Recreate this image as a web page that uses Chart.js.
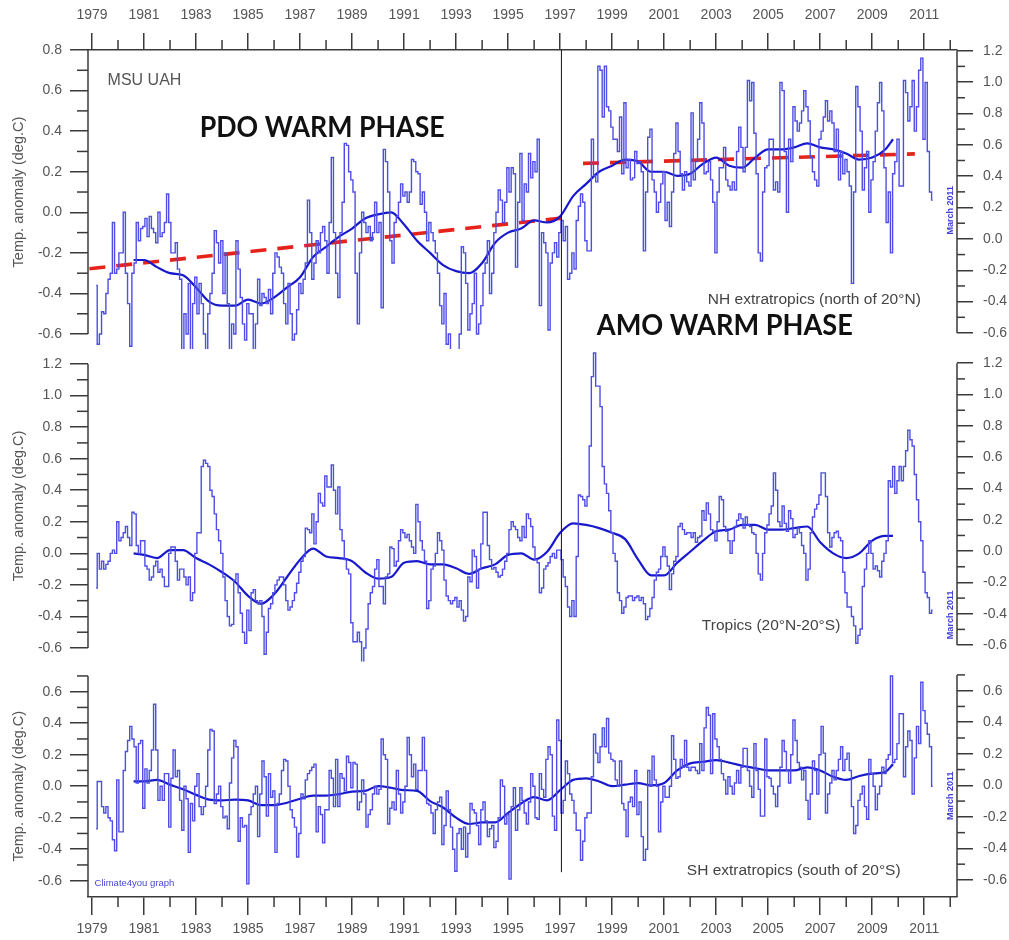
<!DOCTYPE html>
<html><head><meta charset="utf-8">
<script src="https://cdn.jsdelivr.net/npm/chart.js@4/dist/chart.umd.min.js"></script>
<style>html,body{margin:0;padding:0;background:#fff}canvas{display:block}</style>
</head><body>
<canvas id="c" width="1009" height="940"></canvas>
<script>
// ---------- DATA (monthly anomalies, Jan 1979 .. Mar 2011) ----------
const nhMonthly = [
 -0.36,-0.65,-0.60,-0.49,-0.50,-0.40,-0.33,-0.30,-0.05,-0.30,-0.28,-0.20,
 -0.20, 0.00,-0.30,-0.45,-0.66,-0.30,-0.25,-0.05,-0.14,-0.08,-0.07,-0.03,
 -0.12,-0.02,-0.08,-0.10,-0.15, 0.00,-0.12,-0.10,-0.05, 0.09,-0.05,-0.20,
 -0.20,-0.15,-0.28,-0.33,-0.82,-0.50,-0.60,-0.35,-0.70,-0.45,-0.32,-0.50,
 -0.35,-0.45,-0.60,-0.72,-0.50,-0.40,-0.30,-0.09,-0.15,-0.25,-0.14,-0.40,
 -0.20,-0.45,-0.70,-0.55,-0.60,-0.14,-0.28,-0.42,-0.55,-0.63,-0.45,-0.50,
 -0.50,-0.85,-0.55,-0.33,-0.46,-0.40,-0.42,-0.45,-0.38,-0.50,-0.30,-0.20,
 -0.22,-0.27,-0.30,-0.45,-0.55,-0.35,-0.50,-0.63,-0.60,-0.48,-0.35,-0.40,
 -0.33,-0.25, 0.06,-0.10,-0.33,-0.25,-0.14,-0.20,-0.10,-0.07,-0.14,-0.30,
 -0.05, 0.27,-0.10,-0.30,-0.42,-0.10, 0.05, 0.34, 0.33, 0.20, 0.16, 0.10,
 -0.30,-0.55,-0.20, 0.00,-0.05,-0.10,-0.07,-0.14,-0.10, 0.05,-0.10,-0.05,
 -0.47, 0.31, 0.25, 0.10,-0.14,-0.25,-0.05,-0.02, 0.05, 0.14, 0.08, 0.10,
  0.05, 0.10, 0.26, 0.25, 0.20, 0.19, 0.04, 0.10, 0.00,-0.14,-0.05,-0.10,
 -0.14,-0.20,-0.30,-0.46,-0.55,-0.40,-0.65,-0.60,-0.75,-0.78,-0.70,-0.72,
 -0.60,-0.17,-0.20,-0.35,-0.58,-0.50,-0.45,-0.30,-0.60,-0.55,-0.46,-0.30,
 -0.25,-0.14,-0.40,-0.30,-0.10, 0.00, 0.11, 0.06,-0.05, 0.05, 0.22, 0.10,
  0.22, 0.19,-0.27, 0.05, 0.29,-0.04, 0.14, 0.10, 0.29, 0.17, 0.25, 0.20,
  0.36,-0.46,-0.10,-0.15,-0.20,-0.58,-0.25,-0.20,-0.15,-0.22,-0.10,-0.04,
 -0.14,-0.07,-0.33,-0.30,-0.20,-0.28,-0.04, 0.03, 0.09, 0.05,-0.14,-0.19,
 -0.19, 0.36, 0.18, 0.15, 0.72, 0.70, 0.47, 0.72, 0.52, 0.50, 0.42, 0.36,
  0.36, 0.30, 0.47, 0.19, 0.54, 0.22, 0.26, 0.16, 0.17, 0.30, 0.24, 0.25,
  0.20,-0.19, 0.10, 0.37, 0.41, 0.16, 0.10, 0.00, 0.05, 0.14, 0.20,-0.04,
  0.05,-0.07, 0.10, 0.29, 0.44, 0.30, 0.19, 0.11, 0.20, 0.15, 0.13, 0.49,
  0.16, 0.25, 0.36, 0.54, 0.44, 0.19, 0.20, 0.25, 0.16, 0.05,-0.20, 0.10,
  0.22, 0.22, 0.32, 0.16, 0.13, 0.11, 0.15, 0.11, 0.30, 0.42, 0.32, 0.20,
  0.32, 0.65, 0.55, 0.64, 0.39, 0.19,-0.20,-0.24, 0.10, 0.22, 0.23, 0.36,
  0.36, 0.11, 0.15, 0.10, 0.64, 0.60, 0.30, 0.00, 0.36, 0.25, 0.52, 0.45,
  0.40, 0.44, 0.50, 0.60, 0.52, 0.45, 0.27, 0.20, 0.16, 0.13, 0.36, 0.40,
  0.47, 0.55, 0.45, 0.50, 0.44, 0.30, 0.41, 0.16, 0.30, 0.19, 0.26, 0.20,
  0.13,-0.35, 0.10, 0.62, 0.52, 0.40, 0.11, 0.22, 0.30, 0.00, 0.16, 0.25,
  0.40, 0.54, 0.64, 0.50, 0.22,-0.05, 0.10,-0.20, 0.19, 0.25, 0.36, 0.13,
  0.13, 0.65, 0.59, 0.45, 0.52, 0.65, 0.40, 0.52, 0.70, 0.76, 0.36, 0.64,
  0.30, 0.10, 0.06
];
const trMonthly = [
 -0.22, 0.00,-0.10,-0.05,-0.10,-0.07,-0.05, 0.00, 0.02, 0.00, 0.20, 0.08,
  0.10, 0.13, 0.17, 0.10, 0.05, 0.26, 0.25, 0.05, 0.00, 0.08, 0.08,-0.08,
 -0.10,-0.17,-0.15,-0.08,-0.05,-0.12,-0.10,-0.15,-0.21,-0.21, 0.00, 0.04,
  0.04,-0.05,-0.17,-0.10,-0.10,-0.15,-0.20,-0.15,-0.30,-0.25, 0.00, 0.13,
  0.13, 0.55, 0.59, 0.57, 0.55, 0.40, 0.36, 0.25, 0.15, 0.08, 0.00,-0.15,
 -0.30,-0.40,-0.46,-0.45,-0.17,-0.13,-0.25,-0.38,-0.50,-0.57,-0.36,-0.49,
 -0.25,-0.23,-0.30,-0.32,-0.30,-0.40,-0.64,-0.50,-0.35,-0.32,-0.25,-0.20,
 -0.17,-0.15,-0.15,-0.20,-0.30,-0.36,-0.34,-0.30,-0.25,-0.19,-0.12,-0.05,
 -0.02, 0.16, 0.15, 0.13, 0.25, 0.06, 0.20, 0.38, 0.32, 0.30, 0.49, 0.42,
  0.42, 0.56, 0.40, 0.25, 0.42, 0.15, 0.08,-0.04,-0.10,-0.13,-0.44,-0.56,
 -0.56,-0.50,-0.56,-0.73,-0.60,-0.48,-0.32,-0.25,-0.21,-0.10,-0.04,-0.21,
 -0.21,-0.32,-0.15,-0.13, 0.04, 0.03,-0.08,-0.05, 0.08, 0.15, 0.13, 0.10,
  0.12, 0.08, 0.04, 0.00, 0.31, 0.20, 0.08, 0.02,-0.05,-0.35,-0.30,-0.10,
 -0.08, 0.00, 0.13, 0.08, 0.02,-0.17,-0.27,-0.30,-0.32,-0.30,-0.28,-0.34,
 -0.30,-0.36,-0.43,-0.40,-0.15,-0.18, 0.02,-0.02,-0.22,-0.10, 0.06, 0.26,
  0.26, 0.05,-0.04,-0.10,-0.09,-0.12,-0.15,-0.14,-0.10,-0.05, 0.00, 0.15,
  0.20, 0.17, 0.15, 0.10, 0.08, 0.17, 0.10, 0.25, 0.22, 0.17, 0.04,-0.04,
 -0.06,-0.25,-0.22,-0.10,-0.08,-0.06,-0.02, 0.00,-0.03, 0.02, 0.02,-0.04,
 -0.15,-0.21,-0.34,-0.40,-0.30,-0.40,-0.02, 0.37, 0.36, 0.34, 0.30, 0.36,
  0.68, 1.12, 1.27, 1.06, 1.06, 0.93, 0.55, 0.44, 0.38, 0.27, 0.13, 0.00,
 -0.05,-0.25,-0.30,-0.38,-0.34,-0.28,-0.27,-0.27,-0.30,-0.28,-0.27,-0.30,
 -0.28,-0.32,-0.42,-0.40,-0.35,-0.28,-0.17,-0.12,-0.10,-0.02, 0.04,-0.02,
 -0.08,-0.23,-0.13,-0.05,-0.02, 0.17, 0.19, 0.15, 0.12, 0.13, 0.13, 0.10,
  0.13, 0.07, 0.10, 0.11, 0.27, 0.21, 0.32, 0.25, 0.15, 0.14, 0.08, 0.20,
  0.36, 0.34, 0.17, 0.14, 0.08, 0.00, 0.08, 0.17, 0.21, 0.25, 0.22, 0.16,
  0.23, 0.18, 0.17, 0.13, 0.12, 0.00,-0.13,-0.17, 0.00, 0.13, 0.18, 0.25,
  0.30, 0.51, 0.40, 0.20, 0.17, 0.30, 0.19, 0.14, 0.27, 0.22, 0.10, 0.12,
  0.16, 0.13, 0.05, 0.00,-0.17,-0.10, 0.13, 0.23, 0.28, 0.31, 0.37, 0.51,
  0.51, 0.36, 0.13, 0.04, 0.10, 0.13, 0.14, 0.10, 0.08,-0.12,-0.25,-0.34,
 -0.34,-0.40,-0.46,-0.57,-0.52,-0.48,-0.21,-0.10, 0.00, 0.08, 0.00,-0.10,
 -0.08,-0.11,-0.15,-0.05, 0.00, 0.08, 0.46, 0.42, 0.55, 0.38, 0.46, 0.55,
  0.46, 0.55, 0.65, 0.78, 0.72, 0.68, 0.50, 0.34, 0.20, 0.08,-0.12,-0.25,
 -0.28,-0.38,-0.36
];
const shMonthly = [
 -0.27, 0.03, 0.03,-0.13,-0.17,-0.13,-0.20,-0.22,-0.34,-0.41, 0.04,-0.29,
 -0.29, 0.10, 0.22, 0.29, 0.38, 0.30, 0.25, 0.02, 0.27, 0.29,-0.14, 0.11,
  0.02, 0.10, 0.23, 0.52, 0.23,-0.09, 0.00,-0.09, 0.08, 0.08,-0.26, 0.05,
  0.23, 0.06, 0.10,-0.09,-0.28, 0.00,-0.08,-0.42,-0.11,-0.22, 0.00, 0.08,
 -0.13,-0.18,-0.13, 0.00, 0.23, 0.36, 0.35,-0.11,-0.05, 0.00,-0.13,-0.20,
 -0.19,-0.27, 0.02, 0.18, 0.29, 0.25,-0.35,-0.20,-0.26,-0.25,-0.62,-0.18,
 -0.13,-0.05, 0.00,-0.32,-0.05, 0.16, 0.06,-0.19, 0.08,-0.07,-0.03,-0.42,
 -0.11,-0.05, 0.10, 0.17, 0.16, 0.00,-0.15,-0.20,-0.26,-0.45,-0.30,-0.05,
 -0.08, 0.04, 0.08, 0.10, 0.12, 0.14,-0.29,-0.13,-0.18,-0.36,-0.15,-0.15,
  0.10, 0.05,-0.13, 0.17,-0.13, 0.08, 0.05,-0.03, 0.19, 0.15,-0.01, 0.15,
  0.14,-0.15,-0.10, 0.04,-0.05,-0.26,-0.18,-0.15,-0.05, 0.00,-0.05,-0.02,
  0.30, 0.20, 0.17,-0.24,-0.14,-0.10,-0.15, 0.10,-0.05,-0.17,-0.10, 0.00,
  0.31, 0.20, 0.06, 0.14,-0.02, 0.10, 0.10, 0.31, 0.10,-0.11,-0.12,-0.17,
 -0.30,-0.15,-0.10,-0.07,-0.37,-0.25,-0.03,-0.15,-0.26,-0.40,-0.54,-0.30,
 -0.27,-0.40,-0.26,-0.45,-0.30,-0.11,-0.15,-0.17,-0.25,-0.37,-0.15,-0.10,
 -0.22,-0.32,-0.27,-0.25,-0.39,-0.35,-0.20, 0.04, 0.00,-0.24,-0.18,-0.59,
 -0.13,-0.01,-0.28,-0.15,-0.01,-0.09,-0.17,-0.24,-0.10, 0.08, 0.00,-0.20,
 -0.21, 0.08,-0.02,-0.07, 0.17, 0.25, 0.20,-0.19,-0.28, 0.42, 0.29,-0.17,
 -0.09, 0.16, 0.08,-0.05,-0.09,-0.17,-0.28,-0.28,-0.47,-0.35,-0.20,-0.17,
 -0.17, 0.06, 0.33, 0.21, 0.15, 0.25, 0.37, 0.25, 0.43, 0.21, 0.17, 0.16,
  0.04, 0.00, 0.16,-0.11,-0.15,-0.32,-0.10,-0.07,-0.13, 0.10,-0.18,-0.10,
 -0.32,-0.47,-0.40, 0.10, 0.00, 0.19, 0.04, 0.00,-0.29,-0.10, 0.00,-0.07,
 -0.07, 0.00, 0.32, 0.17, 0.05, 0.06, 0.17, 0.12, 0.29, 0.12, 0.10, 0.12,
  0.12, 0.10, 0.08, 0.27, 0.10, 0.37, 0.50, 0.45, 0.08, 0.46, 0.30, 0.25,
  0.17, 0.08, 0.04,-0.05, 0.06, 0.00,-0.05, 0.02, 0.10, 0.02, 0.12, 0.24,
  0.24, 0.10, 0.00,-0.07, 0.27, 0.10,-0.02,-0.19,-0.19, 0.30, 0.06, 0.05,
  0.00,-0.05,-0.13, 0.00, 0.12, 0.29, 0.22, 0.10, 0.02, 0.20, 0.42, 0.29,
  0.15, 0.12, 0.04, 0.10,-0.09,-0.21,-0.05, 0.16, 0.10,-0.05, 0.20, 0.38,
  0.21,-0.17,-0.05, 0.02, 0.10, 0.04, 0.10, 0.17, 0.25, 0.10, 0.17, 0.21,
  0.10,-0.13,-0.30,-0.25,-0.09,-0.05, 0.00,-0.13,-0.21, 0.17, 0.08, 0.00,
 -0.15,-0.05, 0.00, 0.12, 0.08, 0.17, 0.20, 0.70, 0.15, 0.17, 0.27, 0.46,
  0.46, 0.06, 0.25, 0.35, 0.29,-0.05, 0.18, 0.38, 0.27, 0.66, 0.48, 0.40,
  0.33, 0.25, 0.00
];
// 37-month running means, read at these dates
const meanYears = [1980.6,1981,1981.5,1982,1982.5,1983,1983.5,1984,1984.5,1985,1985.5,1986,1986.5,1987,1987.5,1988,1988.5,1989,1989.5,1990,1990.5,1991,1991.5,1992,1992.5,1993,1993.5,1994,1994.5,1995,1995.5,1996,1996.5,1997,1997.5,1998,1998.5,1999,1999.5,2000,2000.5,2001,2001.5,2002,2002.5,2003,2003.5,2004,2004.5,2005,2005.5,2006,2006.5,2007,2007.5,2008,2008.5,2009,2009.5,2009.8];
const nhMean = [-0.235,-0.235,-0.27,-0.30,-0.31,-0.37,-0.44,-0.46,-0.46,-0.43,-0.45,-0.42,-0.37,-0.32,-0.22,-0.17,-0.12,-0.08,-0.03,-0.01,0.00,-0.06,-0.14,-0.20,-0.26,-0.29,-0.30,-0.25,-0.15,-0.10,-0.08,-0.04,-0.05,-0.02,0.08,0.14,0.20,0.23,0.26,0.25,0.20,0.20,0.18,0.19,0.24,0.27,0.23,0.22,0.27,0.31,0.31,0.32,0.34,0.32,0.31,0.29,0.26,0.27,0.31,0.36];
const trMean = [0.00,-0.01,-0.03,0.02,0.02,-0.03,-0.07,-0.12,-0.18,-0.27,-0.32,-0.26,-0.15,-0.04,0.03,-0.02,-0.03,-0.05,-0.12,-0.16,-0.15,-0.06,-0.05,-0.07,-0.07,-0.095,-0.13,-0.095,-0.07,-0.01,0.00,-0.04,0.01,0.13,0.19,0.18,0.16,0.13,0.09,-0.04,-0.14,-0.14,-0.06,0.01,0.08,0.14,0.15,0.18,0.18,0.15,0.15,0.16,0.17,0.07,0.00,-0.03,0.00,0.08,0.11,0.11];
const shMean = [0.03,0.03,0.04,0.01,-0.02,-0.055,-0.085,-0.09,-0.085,-0.09,-0.12,-0.12,-0.105,-0.08,-0.06,-0.06,-0.05,-0.035,-0.03,0.00,-0.01,-0.025,-0.03,-0.095,-0.135,-0.20,-0.24,-0.23,-0.23,-0.17,-0.11,-0.07,-0.09,-0.025,0.04,0.05,0.03,0.00,0.01,0.02,0.005,0.02,0.10,0.145,0.155,0.165,0.15,0.13,0.115,0.10,0.10,0.10,0.12,0.10,0.06,0.04,0.065,0.08,0.09,0.14];
// red trend lines (NH panel)
const trendYearsA = [1978.9, 1997.4];
const trendA = [-0.278, -0.024];
const trendYearsB = [1997.88, 2010.64];
const trendB = [0.241, 0.288];
const breakYear = 1997.05;
// tick labels
const yearTicks = [1979,1981,1983,1985,1987,1989,1991,1993,1995,1997,1999,2001,2003,2005,2007,2009,2011];
const yearMinor = [1980,1982,1984,1986,1988,1990,1992,1994,1996,1998,2000,2002,2004,2006,2008,2010,2012];
const nhTicks = [-0.6,-0.4,-0.2,0,0.2,0.4,0.6,0.8];
const nhMinor = [-0.5,-0.3,-0.1,0.1,0.3,0.5,0.7];
const nhRightTicks = [-0.6,-0.4,-0.2,0,0.2,0.4,0.6,0.8,1.0,1.2];
const wideMinor = [-0.5,-0.3,-0.1,0.1,0.3,0.5,0.7,0.9,1.1];
const trTicks = [-0.6,-0.4,-0.2,0,0.2,0.4,0.6,0.8,1.0,1.2];
const shTicks = [-0.6,-0.4,-0.2,0,0.2,0.4,0.6];
const shMinor = [-0.5,-0.3,-0.1,0.1,0.3,0.5,0.7];

// ---------- STYLE ----------
const axisColor = '#3a3a3a', labelColor = '#555';
const traceColor = 'rgb(78,78,230)', meanColor = 'rgb(24,24,205)', trendColor = '#e5231b';
const tickFont = {family: "'Liberation Sans', Arial, sans-serif", size: 14};
const LEFT_W = 88, RIGHT_W = 52, TOP_H = 50, BOTTOM_H = 43;
const W_N = 299, W_T = 312.5, W_S = 235.5;

function yScale(position, min, max, majors, order, stackWeight) {
  const left = position === 'left';
  return {
    type: 'linear', position, min, max, weight: order, stack: position, stackWeight, bounds: 'data',
    border: {display: false},
    grid: {display: true, drawOnChartArea: false, drawTicks: true, tickLength: left ? 18 : 16, color: axisColor, lineWidth: 1.5},
    ticks: {padding: left ? 8 : 10, font: tickFont, color: labelColor, autoSkip: false, callback: v => Number(v).toFixed(1)},
    afterBuildTicks: s => { s.ticks = majors.map(v => ({value: v})); },
    afterFit: s => { s.width = left ? LEFT_W : RIGHT_W; }
  };
}
function xScale(position) {
  const top = position === 'top';
  return {
    type: 'linear', position, min: 1978.846, max: 2012.26, bounds: 'data',
    border: {display: true, color: axisColor, width: 1.5},
    grid: {display: true, drawOnChartArea: false, drawTicks: true, tickLength: top ? 17 : 18, color: axisColor, lineWidth: 1.5},
    ticks: {padding: top ? 9 : 6, font: tickFont, color: labelColor, autoSkip: false, maxRotation: 0, callback: v => String(v)},
    afterBuildTicks: s => { s.ticks = yearTicks.map(v => ({value: v})); },
    afterFit: s => { s.height = top ? TOP_H : BOTTOM_H; }
  };
}

const monthlyPts = arr => arr.map((v, i) => ({x: 1979 + (i + 1.9) / 12, y: v}));
const meanPts = arr => arr.map((v, i) => ({x: meanYears[i], y: v}));
const pairPts = (xs, ys) => xs.map((x, i) => ({x, y: ys[i]}));

function monthlyDs(arr, axis) {
  return {data: monthlyPts(arr), yAxisID: axis, xAxisID: 'x', borderColor: traceColor, borderWidth: 1.4,
          pointRadius: 0, stepped: 'middle', fill: false};
}
function meanDs(arr, axis) {
  return {data: meanPts(arr), yAxisID: axis, xAxisID: 'x', borderColor: meanColor, borderWidth: 2.2,
          pointRadius: 0, tension: 0.4, cubicInterpolationMode: 'monotone', fill: false};
}
function trendDs(xs, ys) {
  return {data: pairPts(xs, ys), yAxisID: 'yN', xAxisID: 'x', borderColor: trendColor, borderWidth: 3.6,
          borderDash: [16, 11], borderCapStyle: 'butt', pointRadius: 0, fill: false};
}

const decor = {
  id: 'decor',
  afterDatasetsDraw(chart) {
    const ctx = chart.ctx, a = chart.chartArea, s = chart.scales;
    ctx.save();
    ctx.strokeStyle = axisColor; ctx.lineWidth = 1.5;
    const line = (x1, y1, x2, y2) => { ctx.beginPath(); ctx.moveTo(x1, y1); ctx.lineTo(x2, y2); ctx.stroke(); };
    // panel frames (vertical sides)
    line(a.left, s.yN.getPixelForValue(0.8), a.left, s.yN.getPixelForValue(-0.6));
    line(a.right, s.rN.getPixelForValue(1.2), a.right, s.rN.getPixelForValue(-0.6));
    line(a.left, s.yT.getPixelForValue(1.2), a.left, s.yT.getPixelForValue(-0.6));
    line(a.right, s.rT.getPixelForValue(1.2), a.right, s.rT.getPixelForValue(-0.6));
    line(a.left, s.yS.getPixelForValue(0.7), a.left, a.bottom);
    line(a.right, s.rS.getPixelForValue(0.7), a.right, a.bottom);
    // minor ticks
    const vMinor = (sc, vals, x, dir, len) => vals.forEach(v => { const y = sc.getPixelForValue(v); line(x, y, x + dir * len, y); });
    vMinor(s.yN, nhMinor, a.left, -1, 11);
    vMinor(s.yT, wideMinor, a.left, -1, 11);
    vMinor(s.yS, shMinor, a.left, -1, 11);
    vMinor(s.rN, wideMinor, a.right, 1, 8);
    vMinor(s.rT, wideMinor, a.right, 1, 8);
    vMinor(s.rS, shMinor, a.right, 1, 8);
    yearMinor.forEach(v => {
      const x = s.x.getPixelForValue(v);
      line(x, a.top, x, a.top - 10);
      line(x, a.bottom, x, a.bottom + 10);
    });
    // 1997 break line
    ctx.strokeStyle = '#111'; ctx.lineWidth = 1;
    const bx = s.x.getPixelForValue(breakYear);
    line(bx, a.top, bx, s.yS.getPixelForValue(-0.546));
    // texts
    const X = v => s.x.getPixelForValue(v);
    ctx.textBaseline = 'alphabetic'; ctx.textAlign = 'left';
    ctx.fillStyle = '#555';
    ctx.font = "16px 'Liberation Sans', Arial, sans-serif";
    ctx.fillText('MSU UAH', X(1979.6), s.yN.getPixelForValue(0.627));
    ctx.fillStyle = '#111';
    ctx.font = "bold 29px Lato, 'Open Sans', sans-serif";
    ctx.fillText('PDO WARM PHASE', X(1983.14), s.yN.getPixelForValue(0.371), 245);
    ctx.fillText('AMO WARM PHASE', X(1998.41), s.yN.getPixelForValue(-0.605), 256);
    ctx.fillStyle = '#444';
    ctx.font = "15.5px 'Liberation Sans', Arial, sans-serif";
    ctx.fillText('NH extratropics (north of 20\u00B0N)', X(2002.68), s.yN.getPixelForValue(-0.452), 232);
    ctx.fillText('Tropics (20\u00B0N-20\u00B0S)', X(2002.45), s.yT.getPixelForValue(-0.486), 148);
    ctx.fillText('SH extratropics (south of 20\u00B0S)', X(2001.87), s.yS.getPixelForValue(-0.565), 232);
    ctx.fillStyle = '#4646d6';
    ctx.font = "9.5px 'Liberation Sans', Arial, sans-serif";
    ctx.fillText('Climate4you graph', X(1979.1), s.yS.getPixelForValue(-0.635), 82);
    // rotated labels
    const rot = (text, x, y, font, color, maxW) => {
      ctx.save(); ctx.translate(x, y); ctx.rotate(-Math.PI / 2);
      ctx.font = font; ctx.fillStyle = color; ctx.textAlign = 'center'; ctx.textBaseline = 'middle';
      if (maxW) ctx.fillText(text, 0, 0, maxW); else ctx.fillText(text, 0, 0);
      ctx.restore();
    };
    const mFont = "bold 9px 'Liberation Sans Narrow', 'Liberation Sans', Arial, sans-serif";
    rot('March 2011', X(2012.02), s.yN.getPixelForValue(0.01), mFont, '#4040d8', 50);
    rot('March 2011', X(2012.02), s.yT.getPixelForValue(-0.39), mFont, '#4040d8', 50);
    rot('March 2011', X(2012.02), s.yS.getPixelForValue(-0.06), mFont, '#4040d8', 50);
    const tFont = "14.5px 'Liberation Sans', Arial, sans-serif";
    rot('Temp. anomaly (deg.C)', 19, s.yN.getPixelForValue(0.1), tFont, '#555');
    rot('Temp. anomaly (deg.C)', 19, s.yT.getPixelForValue(0.3), tFont, '#555');
    rot('Temp. anomaly (deg.C)', 19, s.yS.getPixelForValue(0.0), tFont, '#555');
    ctx.restore();
  }
};

new Chart(document.getElementById('c'), {
  type: 'line',
  data: {datasets: [
    monthlyDs(nhMonthly, 'yN'), meanDs(nhMean, 'yN'),
    monthlyDs(trMonthly, 'yT'), meanDs(trMean, 'yT'),
    monthlyDs(shMonthly, 'yS'), meanDs(shMean, 'yS'),
    trendDs(trendYearsA, trendA), trendDs(trendYearsB, trendB)
  ]},
  options: {
    responsive: false, animation: false, devicePixelRatio: 1, events: [],
    layout: {padding: 0},
    plugins: {legend: {display: false}, tooltip: {enabled: false}, title: {display: false}},
    scales: {
      x: xScale('bottom'),
      x2: xScale('top'),
      yS: yScale('left', -0.7035, 0.7917, shTicks, 1, W_S),
      yT: yScale('left', -0.6856, 1.295, trTicks, 2, W_T),
      yN: yScale('left', -0.6736, 0.8, nhTicks, 3, W_N),
      rN: yScale('right', -0.702, 1.2045, nhRightTicks, 1, W_N),
      rT: yScale('right', -0.705, 1.291, trTicks, 2, W_T),
      rS: yScale('right', -0.708, 0.785, shTicks, 3, W_S)
    }
  },
  plugins: [decor]
});
</script>
</body></html>
